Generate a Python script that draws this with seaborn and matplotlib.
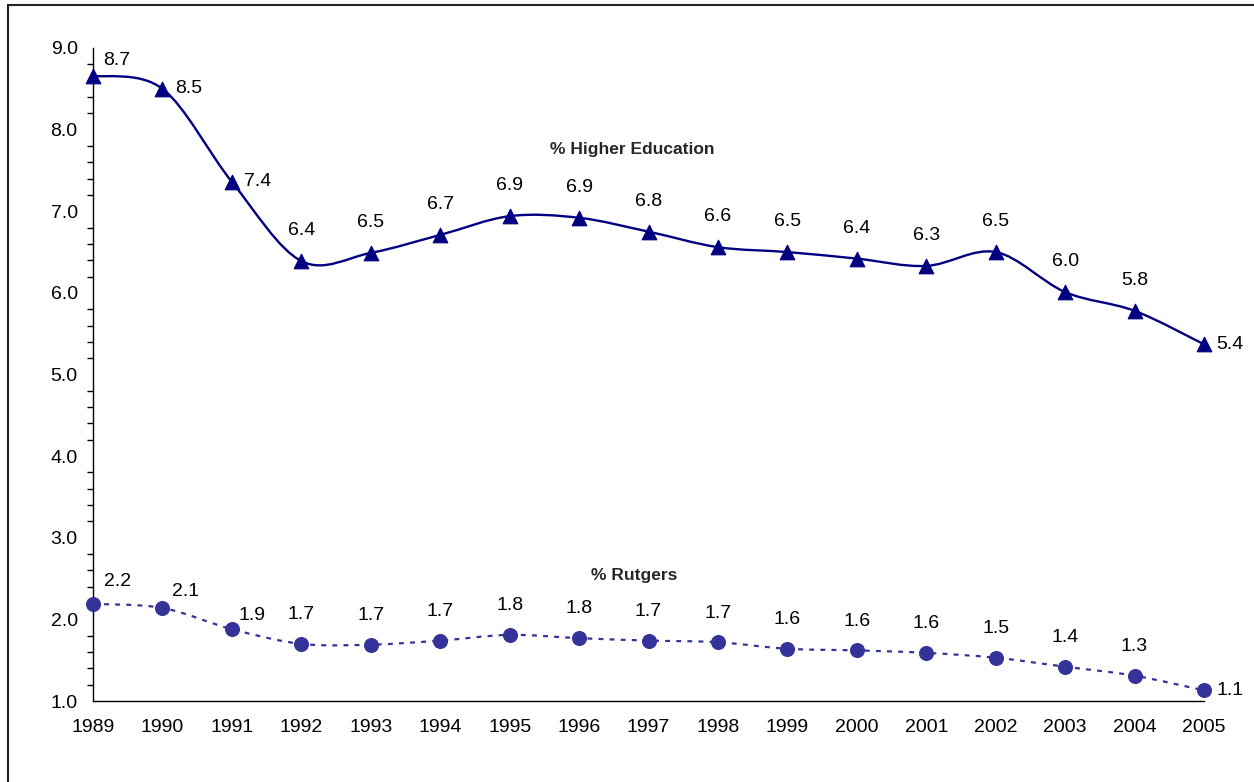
import numpy as np
import pandas as pd
import matplotlib
matplotlib.use("Agg")
import matplotlib.pyplot as plt
import seaborn as sns
from matplotlib.path import Path
from matplotlib.patches import PathPatch, Rectangle
from matplotlib.ticker import MultipleLocator

# data
years = list(range(1989, 2006))
higher_ed = [8.66, 8.50, 7.36, 6.39, 6.49, 6.71, 6.94, 6.92, 6.75, 6.56,
             6.50, 6.42, 6.33, 6.50, 6.01, 5.78, 5.37]
rutgers = [2.19, 2.14, 1.88, 1.70, 1.69, 1.74, 1.81, 1.77, 1.74, 1.72,
           1.64, 1.62, 1.59, 1.53, 1.42, 1.31, 1.13]
series_names = ["% Higher Education", "% Rutgers"]

df = pd.DataFrame({"year": years, "higher": higher_ed, "rutgers": rutgers})

sns.set_style("white")
plt.rcParams["font.family"] = ["Liberation Sans", "DejaVu Sans"]

fig = plt.figure(figsize=(12.54, 7.82), dpi=100)
ax = fig.add_axes([93 / 1254, 1 - 701 / 782, (1204 - 93) / 1254, (701 - 48) / 782])


def smooth_path(x, y):
    # Excel-style smoothed line as cubic Bezier segments
    pts = np.column_stack([x, y]).astype(float)
    n = len(pts)
    verts = [pts[0]]
    codes = [Path.MOVETO]
    for i in range(n - 1):
        p_prev = pts[i - 1] if i > 0 else pts[i]
        p_next2 = pts[i + 2] if i + 2 < n else pts[i + 1]
        c1 = pts[i] + (pts[i + 1] - p_prev) / 6
        c2 = pts[i + 1] - (p_next2 - pts[i]) / 6
        verts += [c1, c2, pts[i + 1]]
        codes += [Path.CURVE4] * 3
    return Path(verts, codes)


navy = "#000080"
purple = "#333399"

ax.add_patch(PathPatch(smooth_path(df["year"], df["higher"]), fill=False,
                       edgecolor=navy, lw=1.7, zorder=2))
ax.add_patch(PathPatch(smooth_path(df["year"], df["rutgers"]), fill=False,
                       edgecolor=purple, lw=1.6, linestyle=(0, (2.2, 2.8)), zorder=2))

sns.scatterplot(data=df, x="year", y="higher", marker="^", s=110, color=navy,
                edgecolor=navy, ax=ax, zorder=3, clip_on=False)
sns.scatterplot(data=df, x="year", y="rutgers", marker="o", s=100, color=purple,
                edgecolor=purple, ax=ax, zorder=3, clip_on=False)

# data labels
n = len(years)
for i, (yr, v) in enumerate(zip(years, higher_ed)):
    if i == 0:
        off, ha, va = (7, 11), "left", "center"
    elif i in (1, 2) or i == n - 1:
        off, ha, va = (9, 0), "left", "center"
    else:
        off, ha, va = (0, 22), "center", "center"
    ax.annotate(f"{v:.1f}", (yr, v), xytext=off, textcoords="offset points",
                ha=ha, va=va, fontsize=14, color="black")

for i, (yr, v) in enumerate(zip(years, rutgers)):
    if i == 0:
        off, ha, va = (8, 16), "left", "center"
    elif i == 1:
        off, ha, va = (7, 12), "left", "center"
    elif i == 2:
        off, ha, va = (5, 10), "left", "center"
    elif i == n - 1:
        off, ha, va = (9, 0), "left", "center"
    else:
        off, ha, va = (0, 21), "center", "center"
    ax.annotate(f"{v:.1f}", (yr, v), xytext=off, textcoords="offset points",
                ha=ha, va=va, fontsize=14, color="black")

ax.text(1996.76, 7.76, series_names[0], ha="center", va="center",
        fontsize=12.5, fontweight="bold")
ax.text(1996.8, 2.54, series_names[1], ha="center", va="center",
        fontsize=12.5, fontweight="bold")

ax.set_xlim(1989, 2005)
ax.set_ylim(1.0, 9.0)
ax.set_xticks(years)
ax.set_xticklabels([str(y) for y in years])
ax.yaxis.set_major_locator(MultipleLocator(1.0))
ax.yaxis.set_minor_locator(MultipleLocator(0.2))
ax.yaxis.set_major_formatter(matplotlib.ticker.FormatStrFormatter("%.1f"))
ax.set_xlabel("")
ax.set_ylabel("")

for side in ["top", "right"]:
    ax.spines[side].set_visible(False)
for side in ["left", "bottom"]:
    ax.spines[side].set_color("black")
    ax.spines[side].set_linewidth(1.0)

ax.tick_params(axis="both", which="both", direction="out", color="black",
               labelsize=14, labelcolor="black")
ax.tick_params(axis="y", which="major", length=5, width=1, pad=6)
ax.tick_params(axis="y", which="minor", length=4, width=1, left=True)
ax.tick_params(axis="x", which="major", length=5, width=1, pad=8)

# outer chart border
fig.patches.append(Rectangle((8 / 1254, -0.05), 1.1, 1 - 5 / 782 + 0.05,
                             transform=fig.transFigure, fill=False,
                             edgecolor="#222222", lw=1.5, zorder=10))

fig.savefig("out.png", dpi=100)
